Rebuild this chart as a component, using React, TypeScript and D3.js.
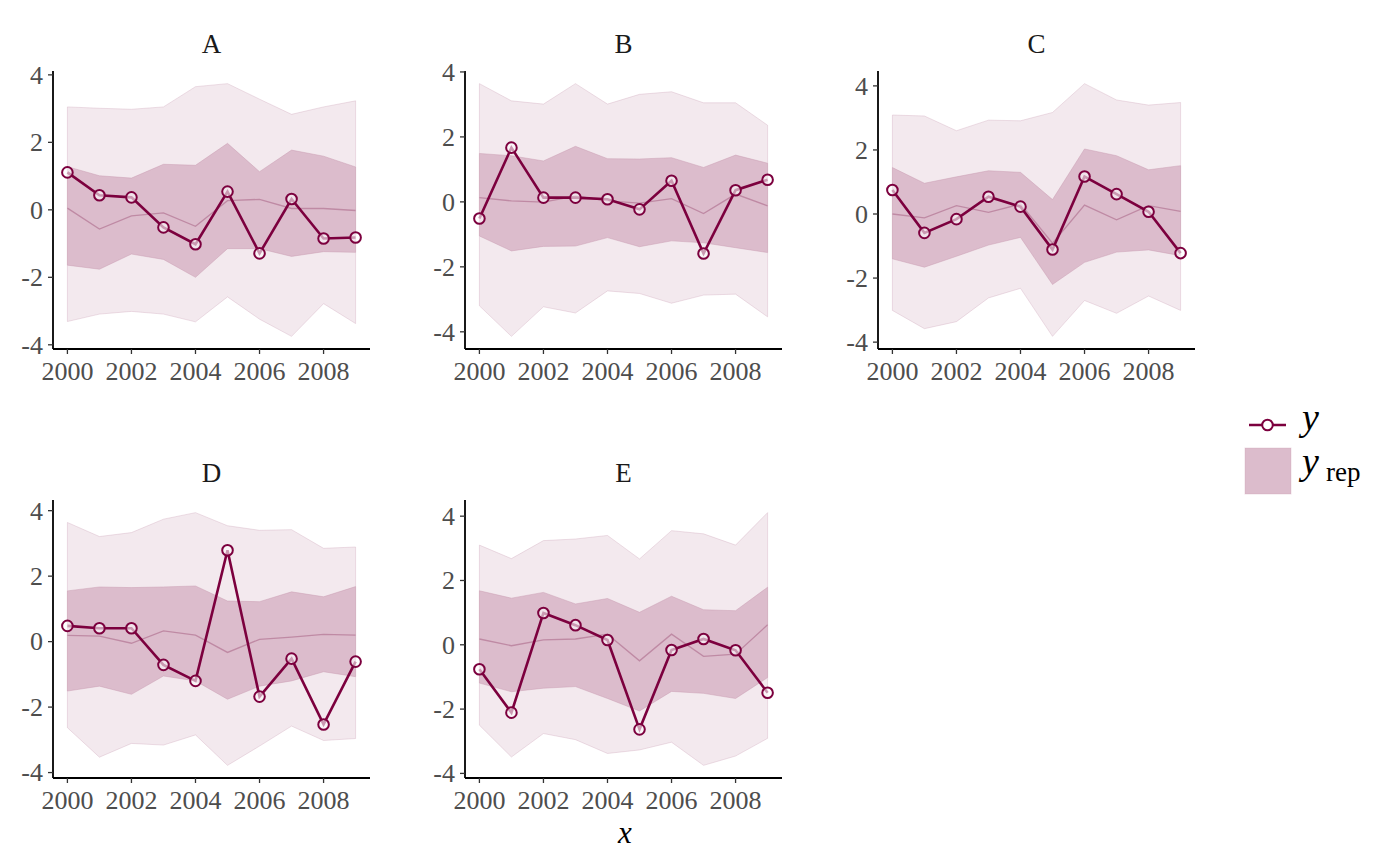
import * as d3 from "d3";

// Posterior predictive ribbons per group (bayesplot ppc_ribbon_grouped look-alike)
const groups = ["A", "B", "C", "D", "E"];
const years = [2000, 2001, 2002, 2003, 2004, 2005, 2006, 2007, 2008, 2009];

// observed y, one row per group
const yObs = [
  [1.11, 0.43, 0.37, -0.52, -1.02, 0.54, -1.29, 0.32, -0.85, -0.82],
  [-0.51, 1.67, 0.13, 0.13, 0.08, -0.23, 0.65, -1.59, 0.36, 0.68],
  [0.75, -0.59, -0.16, 0.54, 0.23, -1.11, 1.17, 0.62, 0.07, -1.22],
  [0.48, 0.41, 0.41, -0.71, -1.2, 2.79, -1.68, -0.52, -2.53, -0.61],
  [-0.76, -2.11, 0.99, 0.61, 0.15, -2.63, -0.16, 0.18, -0.17, -1.49],
];

// yrep median
const repMedian = [
  [0.05, -0.57, -0.18, -0.09, -0.49, 0.27, 0.31, 0.04, 0.04, -0.02],
  [0.13, 0.03, -0.01, 0.18, 0.03, -0.04, 0.1, -0.36, 0.24, -0.12],
  [0.0, -0.12, 0.26, 0.05, 0.31, -0.91, 0.28, -0.18, 0.26, 0.08],
  [0.19, 0.17, -0.05, 0.33, 0.2, -0.33, 0.07, 0.14, 0.22, 0.2],
  [0.18, -0.03, 0.15, 0.18, 0.33, -0.5, 0.33, -0.36, -0.29, 0.62],
];

// inner interval (50%)
const innerLow = [
  [-1.64, -1.76, -1.31, -1.47, -2.0, -1.15, -1.15, -1.38, -1.24, -1.26],
  [-1.05, -1.51, -1.37, -1.36, -1.1, -1.38, -1.2, -1.26, -1.41, -1.56],
  [-1.4, -1.66, -1.32, -0.97, -0.73, -2.2, -1.51, -1.19, -1.12, -1.3],
  [-1.51, -1.36, -1.61, -1.05, -1.2, -1.76, -1.36, -1.2, -0.92, -1.07],
  [-1.19, -1.46, -1.35, -1.3, -1.67, -2.06, -1.45, -1.51, -1.67, -1.02],
];
const innerHigh = [
  [1.28, 1.01, 0.94, 1.35, 1.32, 1.97, 1.13, 1.77, 1.59, 1.27],
  [1.49, 1.42, 1.26, 1.71, 1.33, 1.32, 1.36, 1.06, 1.44, 1.19],
  [1.45, 0.96, 1.16, 1.35, 1.3, 0.45, 2.03, 1.82, 1.38, 1.51],
  [1.55, 1.67, 1.65, 1.67, 1.7, 1.24, 1.22, 1.52, 1.37, 1.68],
  [1.68, 1.45, 1.63, 1.27, 1.44, 1.01, 1.51, 1.09, 1.06, 1.79],
];

// outer interval (90%)
const outerLow = [
  [-3.31, -3.09, -3.01, -3.09, -3.32, -2.58, -3.24, -3.75, -2.78, -3.37],
  [-3.2, -4.14, -3.23, -3.42, -2.74, -2.82, -3.12, -2.87, -2.84, -3.54],
  [-3.01, -3.58, -3.36, -2.62, -2.32, -3.82, -2.7, -3.1, -2.56, -3.01],
  [-2.63, -3.53, -3.11, -3.16, -2.85, -3.78, -3.19, -2.58, -3.02, -2.96],
  [-2.5, -3.49, -2.76, -2.95, -3.38, -3.27, -3.03, -3.75, -3.46, -2.91],
];
const outerHigh = [
  [3.05, 3.01, 2.98, 3.05, 3.65, 3.74, 3.28, 2.83, 3.05, 3.23],
  [3.64, 3.11, 3.01, 3.64, 3.01, 3.31, 3.39, 3.05, 3.05, 2.36],
  [3.09, 3.06, 2.6, 2.93, 2.91, 3.17, 4.07, 3.56, 3.4, 3.48],
  [3.64, 3.21, 3.33, 3.74, 3.94, 3.54, 3.4, 3.42, 2.85, 2.89],
  [3.1, 2.68, 3.24, 3.29, 3.4, 2.67, 3.55, 3.45, 3.1, 4.11],
];

const light = "#dcbccc";
const lightHi = "#c799b0";
const darkHi = "#7c003e";
const font = "'Liberation Serif', 'DejaVu Serif', serif";

const W = 1400;
const H = 866;
const colLeft = [53, 465, 878];
const rowTop = [71, 500];
const pw = 317;
const ph = 278;

function expand(lo: number, hi: number): [number, number] {
  const pad = (hi - lo) * 0.05;
  return [lo - pad, hi + pad];
}

function Panel({ gi }: { gi: number }) {
  const left = colLeft[gi % 3];
  const top = rowTop[Math.floor(gi / 3)];
  const rows = years.map((yr, i) => ({
    x: yr,
    y: yObs[gi][i],
    m: repMedian[gi][i],
    l: innerLow[gi][i],
    h: innerHigh[gi][i],
    ll: outerLow[gi][i],
    hh: outerHigh[gi][i],
  }));
  const lo = d3.min(rows, (d) => Math.min(d.ll, d.y)) ?? 0;
  const hi = d3.max(rows, (d) => Math.max(d.hh, d.y)) ?? 0;
  const x = d3
    .scaleLinear()
    .domain(expand(years[0], years[years.length - 1]))
    .range([left, left + pw]);
  const y = d3.scaleLinear().domain(expand(lo, hi)).range([top + ph, top]);

  type R = (typeof rows)[number];
  const outer = d3
    .area<R>()
    .x((d) => x(d.x))
    .y0((d) => y(d.ll))
    .y1((d) => y(d.hh));
  const inner = d3
    .area<R>()
    .x((d) => x(d.x))
    .y0((d) => y(d.l))
    .y1((d) => y(d.h));
  const med = d3
    .line<R>()
    .x((d) => x(d.x))
    .y((d) => y(d.m));
  const obs = d3
    .line<R>()
    .x((d) => x(d.x))
    .y((d) => y(d.y));

  const bottom = top + ph;
  return (
    <g>
      <text
        x={left + pw / 2}
        y={top - 18}
        textAnchor="middle"
        fontSize={27}
        fill="#1a1a1a"
      >
        {groups[gi]}
      </text>
      <path
        d={outer(rows) ?? ""}
        fill={light}
        fillOpacity={0.33}
        stroke={lightHi}
        strokeOpacity={0.3}
        strokeWidth={1}
      />
      <path
        d={inner(rows) ?? ""}
        fill={light}
        stroke={lightHi}
        strokeOpacity={0.45}
        strokeWidth={1}
      />
      <path d={med(rows) ?? ""} fill="none" stroke="#bf8aa4" strokeWidth={1.3} />
      <path d={obs(rows) ?? ""} fill="none" stroke={darkHi} strokeWidth={2.6} />
      {rows.map((d) => (
        <circle
          key={d.x}
          cx={x(d.x)}
          cy={y(d.y)}
          r={5.3}
          fill="#fff"
          fillOpacity={0.6}
          stroke={darkHi}
          strokeWidth={2}
        />
      ))}
      {/* axes */}
      <line x1={left} x2={left} y1={top} y2={bottom} stroke="#000" strokeWidth={1.8} />
      <line x1={left} x2={left + pw} y1={bottom} y2={bottom} stroke="#000" strokeWidth={1.8} />
      {y.ticks(5).map((t) => (
        <g key={t}>
          <line x1={left - 5} x2={left} y1={y(t)} y2={y(t)} stroke="#333" strokeWidth={1.3} />
          <text
            x={left - 10}
            y={y(t)}
            dy="0.34em"
            textAnchor="end"
            fontSize={26}
            fill="#4d4d4d"
          >
            {t < 0 ? `-${Math.abs(t)}` : t}
          </text>
        </g>
      ))}
      {x.ticks(5).map((t) => (
        <g key={t}>
          <line x1={x(t)} x2={x(t)} y1={bottom} y2={bottom + 5} stroke="#333" strokeWidth={1.3} />
          <text x={x(t)} y={bottom + 31} textAnchor="middle" fontSize={26} fill="#4d4d4d">
            {t}
          </text>
        </g>
      ))}
    </g>
  );
}

export default function App() {
  return (
    <svg
      width={W}
      height={H}
      style={{ display: "block", margin: -8, background: "#fff" }}
      fontFamily={font}
    >
      {groups.map((g, i) => (
        <Panel key={g} gi={i} />
      ))}
      {/* x axis title */}
      <text x={625} y={843} textAnchor="middle" fontSize={31} fontStyle="italic" fill="#000">
        x
      </text>
      {/* legend */}
      <line x1={1249} x2={1286} y1={425} y2={425} stroke={darkHi} strokeWidth={2.6} />
      <circle cx={1267.5} cy={425} r={5.3} fill="#fff" stroke={darkHi} strokeWidth={2} />
      <text x={1302} y={430} fontSize={38} fontStyle="italic" fill="#000">
        y
      </text>
      <rect x={1245} y={448} width={46} height={46} fill={light} stroke={lightHi} strokeOpacity={0.3} />
      <text x={1302} y={474} fontSize={38} fontStyle="italic" fill="#000">
        y
      </text>
      <text x={1326} y={481} fontSize={27} fill="#000">
        rep
      </text>
    </svg>
  );
}
